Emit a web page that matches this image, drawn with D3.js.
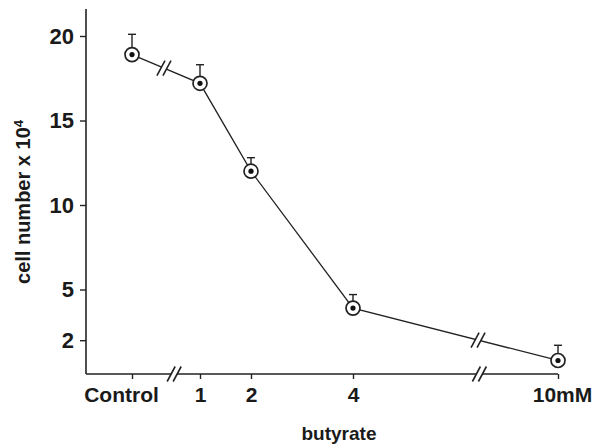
<!DOCTYPE html>
<html>
<head>
<meta charset="utf-8">
<script src="https://cdn.jsdelivr.net/npm/d3@7"></script>
<style>
body { margin: 0; background: #fff; }
text { font-family: "Liberation Sans", Arial, sans-serif; font-weight: bold; fill: #1a1a1a; }
</style>
</head>
<body>
<script>
// butyrate concentration (mM), Control plotted as 0
var conc = [0, 1, 2, 4, 10];
var cellNumber = [18.9, 17.2, 12.0, 3.9, 0.8];
var cellErr = [1.2, 1.1, 0.8, 0.8, 0.9];
var xTickLabels = ['Control', '1', '2', '4', '10mM'];
var yTicks = [2, 5, 10, 15, 20];
// axis and line breaks, in data units
var axisBreaks = [0.62, 7.7];
var lineBreaks = [0.47, 7.66];

var width = 594, height = 447;
var ink = '#222';

var svg = d3.select('body').append('svg')
  .attr('width', width)
  .attr('height', height);

// broken x axis: piecewise linear
var x = d3.scaleLinear()
  .domain([0, 1, 4, 10])
  .range([132, 200, 353, 558]);
var y = d3.scaleLinear()
  .domain([0, 20])
  .range([374, 36]);

var x0 = 86;

// y axis
var yAxis = d3.axisLeft(y).tickValues(yTicks).tickSize(6).tickPadding(6);
var gy = svg.append('g').attr('transform', 'translate(' + x0 + ',0)').call(yAxis);
gy.select('.domain').remove();
gy.selectAll('line').attr('stroke', ink).attr('stroke-width', 1.4);
gy.selectAll('text').attr('font-size', 22).attr('font-family', null);
gy.append('line')
  .attr('x1', 0).attr('x2', 0)
  .attr('y1', y(0)).attr('y2', y(21.6))
  .attr('stroke', ink).attr('stroke-width', 1.6);

// x axis
var xAxis = d3.axisBottom(x).tickValues(conc)
  .tickFormat(function(d, i){ return xTickLabels[i]; })
  .tickSize(5).tickPadding(8);
var gx = svg.append('g').attr('transform', 'translate(0,' + y(0) + ')').call(xAxis);
gx.select('.domain').remove();
gx.selectAll('line').attr('stroke', ink).attr('stroke-width', 1.4);
gx.selectAll('text').attr('font-size', 21).attr('font-family', null)
  .attr('dx', function(d, i){ return i == 0 ? -11 : (i == 4 ? 4 : 0); });
gx.append('line')
  .attr('x1', x0).attr('x2', x(10))
  .attr('y1', 0).attr('y2', 0)
  .attr('stroke', ink).attr('stroke-width', 1.6);

// double-slash break marker
function drawBreak(g, cx, cy) {
  var h = 7.5, dxs = 4, gap = 3;
  g.append('polygon')
    .attr('points', [[cx - gap - dxs, cy + h], [cx - gap + dxs, cy - h], [cx + gap + dxs, cy - h], [cx + gap - dxs, cy + h]].join(' '))
    .attr('fill', '#fff');
  [-gap, gap].forEach(function(o){
    g.append('line')
      .attr('x1', cx + o - dxs).attr('y1', cy + h)
      .attr('x2', cx + o + dxs).attr('y2', cy - h)
      .attr('stroke', ink).attr('stroke-width', 1.6);
  });
}

axisBreaks.forEach(function(b){ drawBreak(svg, x(b), y(0)); });

// data line
var line = d3.line()
  .x(function(d, i){ return x(conc[i]); })
  .y(function(d){ return y(d); });
svg.append('path')
  .datum(cellNumber)
  .attr('d', line)
  .attr('fill', 'none')
  .attr('stroke', ink)
  .attr('stroke-width', 1.3);

// breaks on the data line (interpolate between neighbouring points)
lineBreaks.forEach(function(b){
  var i = d3.bisectRight(conc, b) - 1;
  var t = (x(b) - x(conc[i])) / (x(conc[i + 1]) - x(conc[i]));
  var yy = y(cellNumber[i]) + t * (y(cellNumber[i + 1]) - y(cellNumber[i]));
  drawBreak(svg, x(b), yy);
});

// error bars
var pts = svg.append('g').selectAll('g')
  .data(cellNumber)
  .enter().append('g')
  .attr('transform', function(d, i){ return 'translate(' + x(conc[i]) + ',' + y(d) + ')'; });

pts.append('line')
  .attr('x1', 0).attr('x2', 0)
  .attr('y1', 0)
  .attr('y2', function(d, i){ return y(d + cellErr[i]) - y(d); })
  .attr('stroke', ink).attr('stroke-width', 1.4);
pts.append('line')
  .attr('x1', -4).attr('x2', 4)
  .attr('y1', function(d, i){ return y(d + cellErr[i]) - y(d); })
  .attr('y2', function(d, i){ return y(d + cellErr[i]) - y(d); })
  .attr('stroke', ink).attr('stroke-width', 1.4);

pts.append('circle')
  .attr('r', 7)
  .attr('fill', '#fff')
  .attr('stroke', ink)
  .attr('stroke-width', 1.7);
pts.append('circle')
  .attr('r', 2.6)
  .attr('fill', '#111');

// axis titles
svg.append('text')
  .attr('x', 339).attr('y', 440)
  .attr('text-anchor', 'middle')
  .attr('font-size', 19)
  .text('butyrate');

var yl = svg.append('text')
  .attr('transform', 'translate(30,202) rotate(-90)')
  .attr('text-anchor', 'middle')
  .attr('font-size', 20);
yl.append('tspan').text('cell number x 10');
yl.append('tspan').attr('dy', '-0.55em').attr('font-size', 13).text('4');
</script>
</body>
</html>
